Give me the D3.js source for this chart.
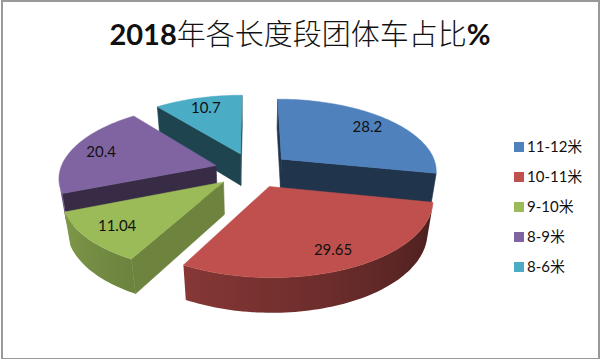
<!DOCTYPE html>
<html>
<head>
<meta charset="utf-8">
<script src="https://cdn.jsdelivr.net/npm/d3@7"></script>
<style>
html, body { margin: 0; padding: 0; background: #fff; }
svg { display: block; }
text { font-family: Lato, "Noto Sans CJK SC", sans-serif; fill: #111; }
</style>
</head>
<body>
<div id="chart"></div>
<script>
var categories = ["11-12米", "10-11米", "9-10米", "8-9米", "8-6米"];
var values = [28.2, 29.65, 11.04, 20.4, 10.7];
var colors = ["#4f81bd", "#c0504d", "#9bbb59", "#8064a2", "#4bacc6"];
var side_shade = [0.4, 0.4, 0.7, 0.43, 0.4];

var chart_width = 600,
	chart_height = 359;

// Pie plane, seen from above with some perspective
var cx = 252.6,
	cy = 170,
	rx = 156,
	ry = 72,
	depth = 33,
	persp = 0.15,
	persp_depth = 0.03,
	explode = 0.244;

var svg = d3.select("#chart")
	.append("svg")
	.attr("width", chart_width)
	.attr("height", chart_height);

var defs = svg.append("defs");

svg.append("rect")
	.attr("x", 2)
	.attr("y", 1)
	.attr("width", chart_width - 3)
	.attr("height", chart_height - 1)
	.attr("fill", "#fff")
	.attr("stroke", "#999")
	.attr("stroke-width", 2);

var arcs = d3.pie().sort(null)(values);

function project(x, y, d) {
	var w = 1 + persp * y + persp_depth * d;
	return [cx + rx * x / w, cy + (depth * d - ry * y) / w];
}

// point of a slice: a = angle, r = radius, d = 0 top face, 1 bottom face
function slice_point(arc, a, r, d) {
	var mid = (arc.startAngle + arc.endAngle) / 2;
	return project(
		explode * Math.sin(mid) + r * Math.sin(a),
		explode * Math.cos(mid) + r * Math.cos(a),
		d
	);
}

// Walls get darker going round to the right
var wall_shade = d3.scaleLinear()
	.domain([0, 100, 208, 248, 290, 360].map(function(d) { return d * Math.PI / 180; }))
	.range([0.36, 0.36, 0.7, 0.82, 0.85, 0.85]);

function shade(color, k) {
	var c = d3.rgb(color);
	return d3.rgb(c.r * k, c.g * k, c.b * k).formatHex();
}

function add_face(g, p, fill) {
	// skip faces turned away from the viewer
	if (d3.polygonArea(p) >= 0) return;
	g.append("path")
		.attr("d", "M" + p.join("L") + "Z")
		.attr("fill", fill)
		.attr("stroke", fill)
		.attr("stroke-width", 0.6);
}

// Back to front
var order = [4, 0, 3, 2, 1];

order.forEach(function(i) {
	var arc = arcs[i];
	var g = svg.append("g");
	var step = 1.5 * Math.PI / 180;
	var n = Math.ceil((arc.endAngle - arc.startAngle) / step);
	var angles = d3.range(n + 1).map(function(k) {
		return arc.startAngle + (arc.endAngle - arc.startAngle) * k / n;
	});

	var a0 = arc.startAngle, a1 = arc.endAngle;
	var side = shade(colors[i], side_shade[i]);

	add_face(g, [
		slice_point(arc, a0, 0, 0), slice_point(arc, a0, 0, 1),
		slice_point(arc, a0, 1, 1), slice_point(arc, a0, 1, 0)
	], side);
	add_face(g, [
		slice_point(arc, a1, 0, 0), slice_point(arc, a1, 1, 0),
		slice_point(arc, a1, 1, 1), slice_point(arc, a1, 0, 1)
	], side);

	// Outer wall: the part of the rim that faces the viewer, one shape with a gradient
	var front = angles.filter(function(a) {
		var quad = [
			slice_point(arc, a - 0.01, 1, 0), slice_point(arc, a - 0.01, 1, 1),
			slice_point(arc, a + 0.01, 1, 1), slice_point(arc, a + 0.01, 1, 0)
		];
		return d3.polygonArea(quad) < 0;
	});

	if (front.length > 1) {
		var x0 = slice_point(arc, front[0], 1, 0)[0],
			x1 = slice_point(arc, front[front.length - 1], 1, 0)[0];
		var grad = defs.append("linearGradient")
			.attr("id", "wall" + i)
			.attr("gradientUnits", "userSpaceOnUse")
			.attr("x1", x0)
			.attr("x2", x1)
			.attr("y1", 0)
			.attr("y2", 0);
		front.forEach(function(a) {
			grad.append("stop")
				.attr("offset", (slice_point(arc, a, 1, 0)[0] - x0) / (x1 - x0))
				.attr("stop-color", shade(colors[i], wall_shade(a)));
		});
		var wall = front.map(function(a) { return slice_point(arc, a, 1, 0); })
			.concat(front.slice().reverse().map(function(a) { return slice_point(arc, a, 1, 1); }));
		g.append("path")
			.attr("d", "M" + wall.join("L") + "Z")
			.attr("fill", "url(#wall" + i + ")");
	}

	var top = angles.map(function(a) { return slice_point(arc, a, 1, 0); });
	top.unshift(slice_point(arc, a0, 0, 0));
	g.append("path")
		.attr("d", "M" + top.join("L") + "Z")
		.attr("fill", colors[i])
		.attr("stroke", colors[i])
		.attr("stroke-width", 0.5);
});

// Data labels
svg.selectAll(".label")
	.data(arcs)
	.enter()
	.append("text")
	.attr("class", "label")
	.attr("text-anchor", "middle")
	.attr("font-size", 15)
	.attr("dy", "0.35em")
	.attr("x", function(d) { return slice_point(d, (d.startAngle + d.endAngle) / 2, 0.8, 0)[0]; })
	.attr("y", function(d) { return slice_point(d, (d.startAngle + d.endAngle) / 2, 0.8, 0)[1]; })
	.text(function(d) { return d.value; });

// Legend
var legend_y = d3.scalePoint()
	.domain(categories)
	.range([147, 267]);

var legend = svg.selectAll(".legend")
	.data(categories)
	.enter()
	.append("g")
	.attr("class", "legend")
	.attr("transform", function(d) { return "translate(514," + legend_y(d) + ")"; });

legend.append("rect")
	.attr("y", -5)
	.attr("width", 10)
	.attr("height", 10)
	.attr("fill", function(d, i) { return colors[i]; });

legend.append("text")
	.attr("x", 13)
	.attr("dy", "0.35em")
	.attr("font-size", 15)
	.text(function(d) { return d; });

// Title, digits bold and Chinese regular
var title = svg.append("text")
	.attr("x", 300)
	.attr("y", 45)
	.attr("text-anchor", "middle")
	.attr("font-size", 29);

title.append("tspan").attr("font-weight", 700).text("2018");
title.append("tspan").attr("font-weight", 300).text("年各长度段团体车占比");
title.append("tspan").attr("font-weight", 700).text("%");
</script>
</body>
</html>
